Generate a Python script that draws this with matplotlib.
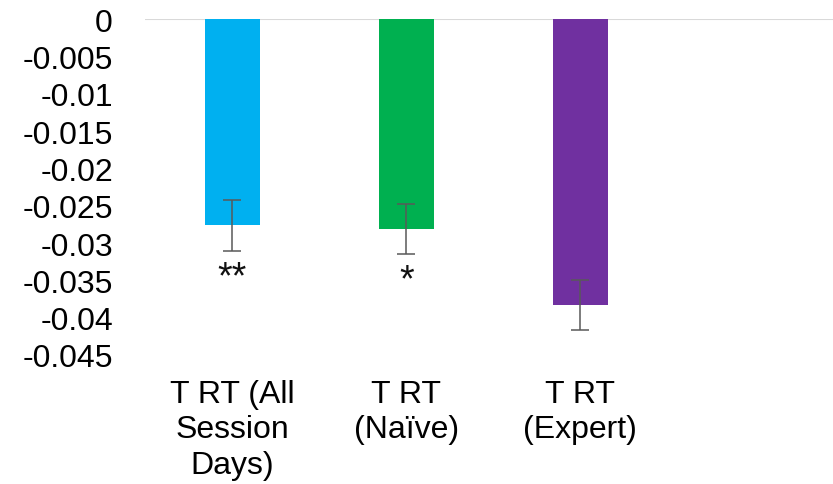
import matplotlib.pyplot as plt

plt.rcParams['font.family'] = ['Liberation Sans', 'DejaVu Sans']

# data
labels = ["T RT (All\nSession\nDays)", "T RT\n(Naïve)", "T RT\n(Expert)"]
values = [-0.0276, -0.0281, -0.0383]
errors = [0.0034, 0.0034, 0.0034]
stars = ["**", "*", ""]
colors = ["#00B0F0", "#00B050", "#7030A0"]
yticks = [0, -0.005, -0.01, -0.015, -0.02, -0.025, -0.03, -0.035, -0.04, -0.045]

fig = plt.figure(figsize=(8.33, 4.85), dpi=100)
ax = fig.add_axes([0.174, 0.266, 0.826, 0.692])

x = list(range(len(values)))
ax.bar(x, values, width=0.316, color=colors, zorder=2)
ax.errorbar(x, values, yerr=errors, fmt="none", ecolor="#595959",
            elinewidth=1.1, capsize=6.5, capthick=1.1, zorder=3)

# significance stars under the error bars
for xi, v, e, s in zip(x, values, errors, stars):
    if s:
        ax.annotate(s, (xi, v - e), xytext=(0, -6), textcoords="offset points",
                    ha="center", va="top", fontsize=27, color="#111111")

ax.axhline(0, color="#d9d9d9", linewidth=1.5, zorder=1)
ax.set_ylim(-0.045, 0)
ax.set_xlim(-0.5, 3.45)
ax.set_yticks(yticks)
ax.set_yticklabels(["0" if t == 0 else f"{t:g}" for t in yticks])
ax.set_xticks(x)
ax.set_xticklabels(labels, linespacing=1.25)

for sp in ax.spines.values():
    sp.set_visible(False)
ax.tick_params(axis="y", length=0, labelsize=23, pad=23)
ax.tick_params(axis="x", length=0, labelsize=23, pad=17)

plt.savefig("out.png", dpi=100)
plt.close()
